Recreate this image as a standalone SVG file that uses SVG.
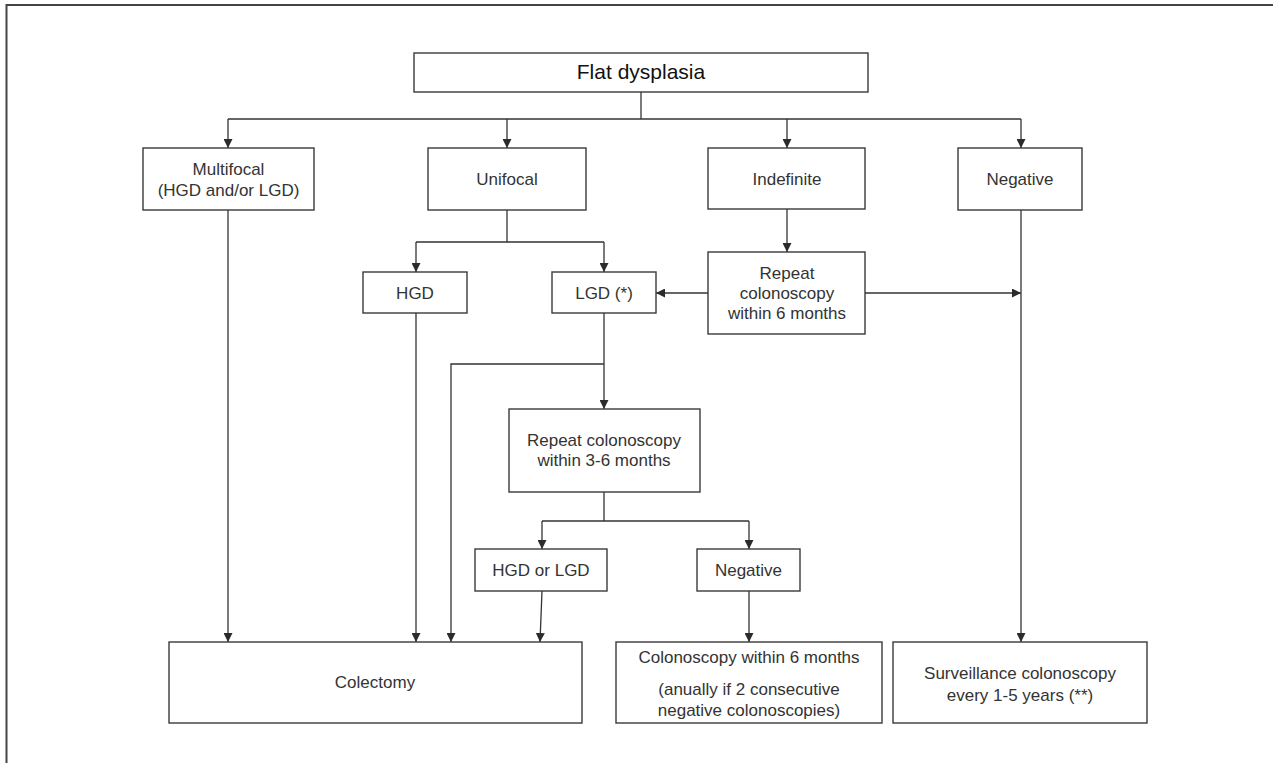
<svg xmlns="http://www.w3.org/2000/svg" width="1273" height="763" viewBox="0 0 1273 763">
<defs>
<marker id="arr" viewBox="0 0 10 10" refX="10" refY="5" markerWidth="9" markerHeight="9" markerUnits="userSpaceOnUse" orient="auto">
<path d="M0,0 L10,5 L0,10 Z" fill="#2b2b2b"/>
</marker>
<style>
.box{fill:#fff;stroke:#3a3a3a;stroke-width:1.4}
.t{font-family:"Liberation Sans",Arial,sans-serif;font-size:17px;fill:#333;text-anchor:middle}
.title{font-family:"Liberation Sans",Arial,sans-serif;font-size:21px;fill:#111;text-anchor:middle}
.c{fill:none;stroke:#333;stroke-width:1.3}
.a{fill:none;stroke:#333;stroke-width:1.3;marker-end:url(#arr)}
.frame{fill:none;stroke:#444;stroke-width:2}
</style>
</defs>
<rect width="1273" height="763" fill="#fff"/>
<path class="frame" d="M6.5,763 L6.5,5 L1273,5"/>

<g id="connectors">
<path class="c" d="M641,92 L641,119"/>
<path class="c" d="M228,119 L1021,119"/>
<path class="a" d="M228,119 L228,148"/>
<path class="a" d="M507,119 L507,148"/>
<path class="a" d="M787,119 L787,148"/>
<path class="a" d="M1021,119 L1021,148"/>
<path class="c" d="M507,210 L507,242 M416,242 L604,242"/>
<path class="a" d="M416,242 L416,272"/>
<path class="a" d="M604,242 L604,272"/>
<path class="a" d="M787,209 L787,252"/>
<path class="a" d="M708,293 L656,293"/>
<path class="a" d="M865,293 L1021,293"/>
<path class="a" d="M1021,210 L1021,642"/>
<path class="a" d="M228,210 L228,642"/>
<path class="a" d="M416,313 L416,642"/>
<path class="a" d="M604,313 L604,409"/>
<path class="a" d="M604,364 L451,364 L451,642"/>
<path class="c" d="M604,492 L604,521 M542,521 L749,521"/>
<path class="a" d="M542,521 L542,549"/>
<path class="a" d="M749,521 L749,549"/>
<path class="a" d="M542,591 L540,642"/>
<path class="a" d="M749,591 L749,642"/>
</g>

<g id="flat">
<rect class="box" x="414" y="53" width="454" height="39"/>
<text class="title" x="641" y="79">Flat dysplasia</text>
</g>
<g id="multifocal">
<rect class="box" x="143" y="148" width="171" height="62"/>
<text class="t" x="228.5" y="175">Multifocal</text>
<text class="t" x="228.5" y="196">(HGD and/or LGD)</text>
</g>
<g id="unifocal">
<rect class="box" x="428" y="148" width="158" height="62"/>
<text class="t" x="507" y="185">Unifocal</text>
</g>
<g id="indefinite">
<rect class="box" x="708" y="148" width="157" height="61"/>
<text class="t" x="787" y="185">Indefinite</text>
</g>
<g id="negative1">
<rect class="box" x="958" y="148" width="124" height="62"/>
<text class="t" x="1020" y="185">Negative</text>
</g>
<g id="hgd">
<rect class="box" x="363" y="272" width="104" height="41"/>
<text class="t" x="415" y="299">HGD</text>
</g>
<g id="lgd">
<rect class="box" x="552" y="272" width="104" height="41"/>
<text class="t" x="604" y="299">LGD (*)</text>
</g>
<g id="repeat6">
<rect class="box" x="708" y="252" width="157" height="82"/>
<text class="t" x="787" y="279">Repeat</text>
<text class="t" x="787" y="299">colonoscopy</text>
<text class="t" x="787" y="319">within 6 months</text>
</g>
<g id="repeat36">
<rect class="box" x="509" y="409" width="191" height="83"/>
<text class="t" x="604" y="446">Repeat colonoscopy</text>
<text class="t" x="604" y="466">within 3-6 months</text>
</g>
<g id="hgdorlgd">
<rect class="box" x="475" y="549" width="132" height="42"/>
<text class="t" x="541" y="576">HGD or LGD</text>
</g>
<g id="negative2">
<rect class="box" x="697" y="549" width="103" height="42"/>
<text class="t" x="748.5" y="576">Negative</text>
</g>
<g id="colectomy">
<rect class="box" x="169" y="642" width="413" height="81"/>
<text class="t" x="375" y="688">Colectomy</text>
</g>
<g id="colonoscopy">
<rect class="box" x="616" y="642" width="266" height="81"/>
<text class="t" x="749" y="663">Colonoscopy within 6 months</text>
<text class="t" x="749" y="695">(anually if 2 consecutive</text>
<text class="t" x="749" y="716">negative colonoscopies)</text>
</g>
<g id="surveillance">
<rect class="box" x="893" y="642" width="254" height="81"/>
<text class="t" x="1020" y="679">Surveillance colonoscopy</text>
<text class="t" x="1020" y="701">every 1-5 years (**)</text>
</g>
</svg>
